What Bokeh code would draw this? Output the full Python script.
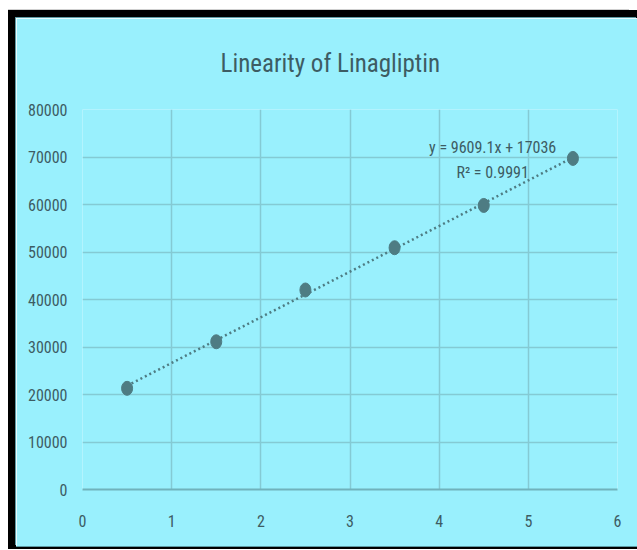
from bokeh.plotting import figure
from bokeh.models import Range1d, FixedTicker, Label, ColumnDataSource, Title
from bokeh.embed import file_html
from bokeh.resources import INLINE

# Calibration data: concentration level vs. peak area
conc = [0.5, 1.5, 2.5, 3.5, 4.5, 5.5]
area = [21300, 31100, 42000, 50900, 59800, 69700]

# Fitted trendline as reported on the chart
slope = 9609.1
intercept = 17036
r_squared = 0.9991

x_ticks = [0, 1, 2, 3, 4, 5, 6]
y_ticks = [0, 10000, 20000, 30000, 40000, 50000, 60000, 70000, 80000]
x_tick_labels = ["0", "1", "2", "3", "4", "5", "6"]
y_tick_labels = ["0", "10000", "20000", "30000", "40000", "50000", "60000", "70000", "80000"]

FONT = "Roboto Condensed"
BG = "#99F0FD"
TEXT = "#3D5C63"
MARK = "#4E7C83"
GRID = "#84CAD4"
AXIS = "#70B2BC"
EDGE = "#5E9AA3"

# black frame drawn as shadows so it does not change the plot's size
frame_shadow = ", ".join([
    "-1px -1px 0 0 " + EDGE,
    "0 1px 0 0 " + EDGE,
    "-8px -8px 0 0 black",
    "0 -8px 0 0 black",
    "-8px 3px 0 0 black",
    "0 3px 0 0 black",
    "-8px -9px 0 0 #CFCFCF",
])

p = figure(width=621, height=528, output_backend="svg", toolbar_location=None,
           x_range=Range1d(0, 6), y_range=Range1d(0, 80000),
           min_border_left=66, min_border_right=20, min_border_top=91, min_border_bottom=57,
           background_fill_color=BG, border_fill_color=BG, outline_line_color=None,
           margin=(18, 0, 0, 16),
           styles={"box-shadow": frame_shadow})

p.title = Title(text="Linearity of Linagliptin", align="left", offset=138,
                vertical_align="top",
                text_font=FONT, text_font_size="25px", text_font_style="normal",
                text_color=TEXT, standoff=60)

# axes
p.xaxis.ticker = FixedTicker(ticks=x_ticks)
p.yaxis.ticker = FixedTicker(ticks=y_ticks)
p.xaxis.major_label_overrides = dict(zip(x_ticks, x_tick_labels))
p.yaxis.major_label_overrides = dict(zip(y_ticks, y_tick_labels))
for ax in (p.xaxis, p.yaxis):
    ax.major_tick_line_color = None
    ax.minor_tick_line_color = None
    ax.major_label_text_font = FONT
    ax.major_label_text_font_size = "16px"
    ax.major_label_text_color = TEXT
p.xaxis.axis_line_color = AXIS
p.xaxis.axis_line_width = 2
p.xaxis.major_label_standoff = 19
p.yaxis.axis_line_color = None
p.yaxis.major_label_standoff = 9

p.xgrid.grid_line_color = GRID
p.ygrid.grid_line_color = GRID
p.xgrid.grid_line_width = 1.5
p.ygrid.grid_line_width = 1.5

# trendline over the data range
tx = [min(conc), max(conc)]
ty = [slope * v + intercept for v in tx]
p.line(tx, ty, line_color=MARK, line_width=2.5, line_dash="2 3")

src = ColumnDataSource(dict(x=conc, y=area))
p.ellipse(x="x", y="y", width=11, height=14, width_units="screen", height_units="screen",
          source=src, fill_color=MARK, line_color=MARK)

p.add_layout(Label(x=4.6, y=71900, text=f"y = {slope}x + {intercept}", text_align="center",
                   text_baseline="middle", text_font=FONT, text_font_size="16px", text_color=TEXT))
p.add_layout(Label(x=4.6, y=66700, text=f"R² = {r_squared}", text_align="center",
                   text_baseline="middle", text_font=FONT, text_font_size="16px", text_color=TEXT))

open("out.html", "w").write(file_html(p, INLINE))
